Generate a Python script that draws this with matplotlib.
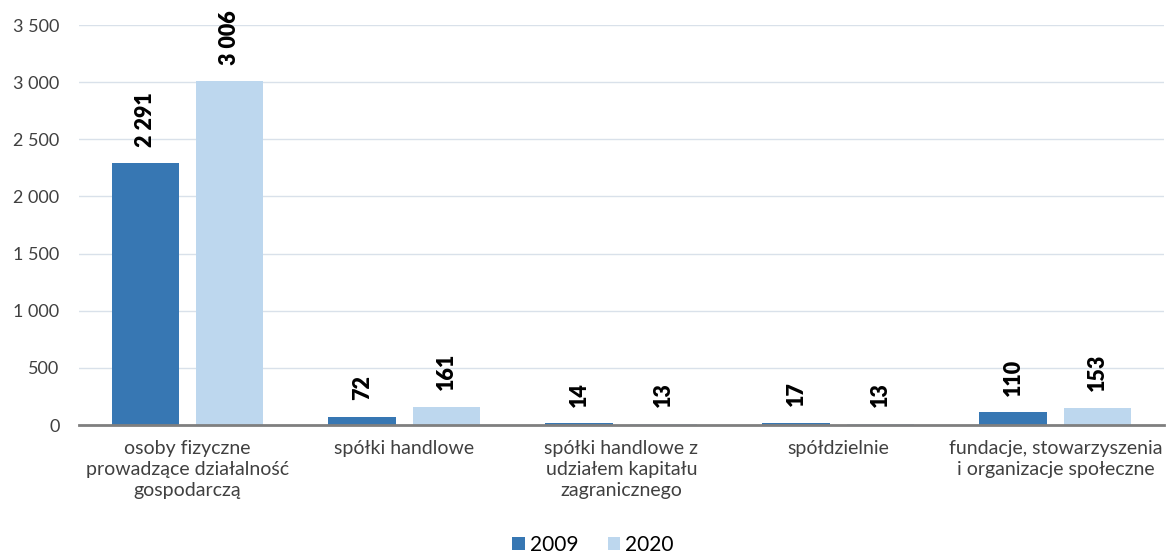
import numpy as np
import matplotlib
matplotlib.use("Agg")
import matplotlib.pyplot as plt
from matplotlib.ticker import FuncFormatter

categories = ["osoby fizyczne\nprowadzące działalność\ngospodarczą",
              "spółki handlowe",
              "spółki handlowe z\nudziałem kapitału\nzagranicznego",
              "spółdzielnie",
              "fundacje, stowarzyszenia\ni organizacje społeczne"]
vals_2009 = [2291, 72, 14, 17, 110]
vals_2020 = [3006, 161, 13, 13, 153]
years = ["2009", "2020"]

c_dark = "#3777B3"
c_light = "#BDD7EE"

plt.rcParams['font.family'] = ['Lato', 'DejaVu Sans']

def fmt(v, pos=None):
    return "{:,}".format(int(v)).replace(",", " ")

fig = plt.figure(figsize=(11.72, 5.56), dpi=100)
ax = fig.add_axes([0.0674, 0.2356, 0.9256, 0.7194])

x = np.arange(len(categories))
w = 0.31
off = 0.195
b1 = ax.bar(x - off, vals_2009, w, color=c_dark, label=years[0], zorder=3)
b2 = ax.bar(x + off, vals_2020, w, color=c_light, label=years[1], zorder=3)

for bars, vals in ((b1, vals_2009), (b2, vals_2020)):
    for r, v in zip(bars, vals):
        ax.annotate(fmt(v), (r.get_x() + r.get_width() / 2, v),
                    xytext=(0, 12), textcoords="offset points",
                    rotation=90, ha="center", va="bottom",
                    fontsize=15.5, fontweight="heavy", color="black")

ax.set_xlim(-0.5, len(categories) - 0.5)
ax.set_ylim(0, 3500)
ax.set_yticks(np.arange(0, 3501, 500))
ax.yaxis.set_major_formatter(FuncFormatter(fmt))
ax.set_xticks(x)
ax.set_xticklabels(categories, fontsize=14, color="#404040", linespacing=1.28)
ax.tick_params(axis="y", labelsize=13, labelcolor="#404040", length=0, pad=14)
ax.tick_params(axis="x", length=0, pad=11)
ax.grid(axis="y", color="#D9E1EA", linewidth=1, zorder=0)
for s in ["top", "right", "left"]:
    ax.spines[s].set_visible(False)
ax.spines["bottom"].set_color("#7F7F7F")
ax.spines["bottom"].set_linewidth(2)
ax.spines["bottom"].set_zorder(4)

fig.legend(loc="center", bbox_to_anchor=(0.506, 0.02), ncol=2, frameon=False,
           fontsize=15, handlelength=0.6, handleheight=0.6, handletextpad=0.25,
           columnspacing=1.4, borderpad=0.1)

fig.savefig("out.png", dpi=100)
